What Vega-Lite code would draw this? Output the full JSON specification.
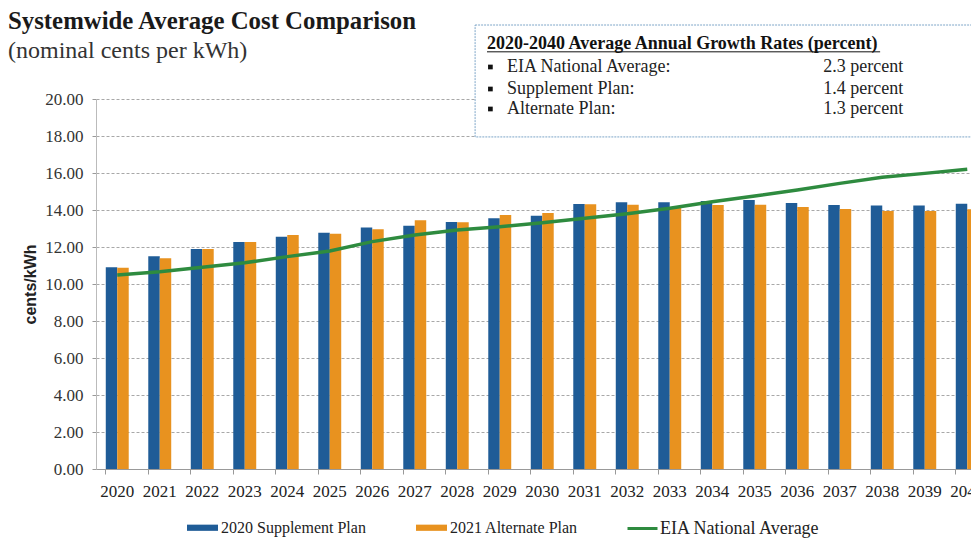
{
  "$schema": "https://vega.github.io/schema/vega-lite/v6.json",
  "width": 875,
  "height": 370,
  "autosize": {"type": "none"},
  "padding": {"left": 96, "top": 99, "right": 0, "bottom": 69},
  "background": "white",
  "config": {"view": {"stroke": null}, "font": "Liberation Serif"},
  "datasets": {
    "costs": [
      {"year": "2020", "series": "2020 Supplement Plan", "value": 10.90},
      {"year": "2021", "series": "2020 Supplement Plan", "value": 11.50},
      {"year": "2022", "series": "2020 Supplement Plan", "value": 11.89},
      {"year": "2023", "series": "2020 Supplement Plan", "value": 12.27},
      {"year": "2024", "series": "2020 Supplement Plan", "value": 12.56},
      {"year": "2025", "series": "2020 Supplement Plan", "value": 12.77},
      {"year": "2026", "series": "2020 Supplement Plan", "value": 13.06},
      {"year": "2027", "series": "2020 Supplement Plan", "value": 13.15},
      {"year": "2028", "series": "2020 Supplement Plan", "value": 13.35},
      {"year": "2029", "series": "2020 Supplement Plan", "value": 13.55},
      {"year": "2030", "series": "2020 Supplement Plan", "value": 13.69},
      {"year": "2031", "series": "2020 Supplement Plan", "value": 14.32},
      {"year": "2032", "series": "2020 Supplement Plan", "value": 14.42},
      {"year": "2033", "series": "2020 Supplement Plan", "value": 14.42},
      {"year": "2034", "series": "2020 Supplement Plan", "value": 14.49},
      {"year": "2035", "series": "2020 Supplement Plan", "value": 14.54},
      {"year": "2036", "series": "2020 Supplement Plan", "value": 14.38},
      {"year": "2037", "series": "2020 Supplement Plan", "value": 14.27},
      {"year": "2038", "series": "2020 Supplement Plan", "value": 14.25},
      {"year": "2039", "series": "2020 Supplement Plan", "value": 14.25},
      {"year": "2040", "series": "2020 Supplement Plan", "value": 14.34},
      {"year": "2020", "series": "2021 Alternate Plan", "value": 10.88},
      {"year": "2021", "series": "2021 Alternate Plan", "value": 11.39},
      {"year": "2022", "series": "2021 Alternate Plan", "value": 11.89},
      {"year": "2023", "series": "2021 Alternate Plan", "value": 12.27},
      {"year": "2024", "series": "2021 Alternate Plan", "value": 12.65},
      {"year": "2025", "series": "2021 Alternate Plan", "value": 12.72},
      {"year": "2026", "series": "2021 Alternate Plan", "value": 12.96},
      {"year": "2027", "series": "2021 Alternate Plan", "value": 13.44},
      {"year": "2028", "series": "2021 Alternate Plan", "value": 13.34},
      {"year": "2029", "series": "2021 Alternate Plan", "value": 13.73},
      {"year": "2030", "series": "2021 Alternate Plan", "value": 13.84},
      {"year": "2031", "series": "2021 Alternate Plan", "value": 14.31},
      {"year": "2032", "series": "2021 Alternate Plan", "value": 14.29},
      {"year": "2033", "series": "2021 Alternate Plan", "value": 14.15},
      {"year": "2034", "series": "2021 Alternate Plan", "value": 14.27},
      {"year": "2035", "series": "2021 Alternate Plan", "value": 14.29},
      {"year": "2036", "series": "2021 Alternate Plan", "value": 14.16},
      {"year": "2037", "series": "2021 Alternate Plan", "value": 14.05},
      {"year": "2038", "series": "2021 Alternate Plan", "value": 13.95},
      {"year": "2039", "series": "2021 Alternate Plan", "value": 13.95},
      {"year": "2040", "series": "2021 Alternate Plan", "value": 14.04},
      {"year": "2020", "series": "EIA National Average", "value": 10.49},
      {"year": "2021", "series": "EIA National Average", "value": 10.66},
      {"year": "2022", "series": "EIA National Average", "value": 10.90},
      {"year": "2023", "series": "EIA National Average", "value": 11.15},
      {"year": "2024", "series": "EIA National Average", "value": 11.48},
      {"year": "2025", "series": "EIA National Average", "value": 11.78},
      {"year": "2026", "series": "EIA National Average", "value": 12.29},
      {"year": "2027", "series": "EIA National Average", "value": 12.65},
      {"year": "2028", "series": "EIA National Average", "value": 12.92},
      {"year": "2029", "series": "EIA National Average", "value": 13.10},
      {"year": "2030", "series": "EIA National Average", "value": 13.31},
      {"year": "2031", "series": "EIA National Average", "value": 13.55},
      {"year": "2032", "series": "EIA National Average", "value": 13.80},
      {"year": "2033", "series": "EIA National Average", "value": 14.09},
      {"year": "2034", "series": "EIA National Average", "value": 14.45},
      {"year": "2035", "series": "EIA National Average", "value": 14.76},
      {"year": "2036", "series": "EIA National Average", "value": 15.08},
      {"year": "2037", "series": "EIA National Average", "value": 15.44},
      {"year": "2038", "series": "EIA National Average", "value": 15.77},
      {"year": "2039", "series": "EIA National Average", "value": 15.98},
      {"year": "2040", "series": "EIA National Average", "value": 16.20}
    ],
    "notes": [
      {"part": "box", "x": 2028.42, "x2": 2042.0, "y": 17.95, "y2": 24.0},
      {"part": "underline", "x": 2028.70, "x2": 2037.95, "y": 22.55},
      {"part": "header", "x": 2028.70, "y": 22.70, "text": "2020-2040  Average Annual Growth Rates (percent)"},
      {"part": "body", "x": 2029.17, "y": 21.46, "text": "EIA National Average:"},
      {"part": "body", "x": 2036.61, "y": 21.46, "text": "2.3 percent"},
      {"part": "body", "x": 2029.17, "y": 20.27, "text": "Supplement Plan:"},
      {"part": "body", "x": 2036.61, "y": 20.27, "text": "1.4 percent"},
      {"part": "body", "x": 2029.17, "y": 19.19, "text": "Alternate Plan:"},
      {"part": "body", "x": 2036.61, "y": 19.19, "text": "1.3 percent"},
      {"part": "bullet", "x": 2028.78, "y": 21.73},
      {"part": "bullet", "x": 2028.78, "y": 20.54},
      {"part": "bullet", "x": 2028.78, "y": 19.46},
      {"part": "title", "x": 2017.43, "y": 23.80, "text": "Systemwide Average Cost Comparison"},
      {"part": "subtitle", "x": 2017.43, "y": 22.22, "text": "(nominal cents per kWh)"}
    ]
  },
  "layer": [
    {
      "data": {"name": "costs"},
      "encoding": {
        "x": {
          "field": "year",
          "type": "ordinal",
          "scale": {"range": [0, 892.5], "paddingInner": 0.46, "paddingOuter": 0.23},
          "axis": {
            "title": null,
            "labelAngle": 0,
            "labelFont": "Liberation Serif",
            "labelFontSize": 17,
            "labelColor": "#222222",
            "labelPadding": 9,
            "tickSize": 5,
            "tickColor": "#999999",
            "domainColor": "#999999",
            "bandPosition": 0,
            "grid": false
          }
        },
        "y": {
          "field": "value",
          "type": "quantitative",
          "scale": {"domain": [0, 20], "nice": false},
          "axis": {
            "title": "cents/kWh",
            "titleFont": "Liberation Sans",
            "titleFontSize": 16,
            "titleFontWeight": "bold",
            "titleColor": "#222222",
            "titlePadding": 6,
            "values": [0, 2, 4, 6, 8, 10, 12, 14, 16, 18, 20],
            "tickCount": 12,
            "labelOverlap": false,
            "format": ".2f",
            "labelFont": "Liberation Serif",
            "labelFontSize": 17,
            "labelColor": "#333333",
            "labelPadding": 9,
            "tickSize": 4,
            "tickColor": "#999999",
            "domainColor": "#bbbbbb",
            "grid": true,
            "gridColor": "#a8a8a8",
            "gridDash": [3, 2],
            "gridWidth": 1
          }
        }
      },
      "layer": [
        {
          "transform": [{"filter": "datum.series !== 'EIA National Average'"}],
          "mark": {"type": "bar"},
          "encoding": {
            "xOffset": {"field": "series", "type": "nominal", "scale": {"paddingInner": 0, "paddingOuter": 0}},
            "fill": {
              "field": "series",
              "type": "nominal",
              "scale": {"domain": ["2020 Supplement Plan", "2021 Alternate Plan"], "range": ["#1f5c97", "#e8921f"]},
              "legend": {
                "orient": "none",
                "legendX": 91,
                "legendY": 413,
                "direction": "horizontal",
                "title": null,
                "padding": 0,
                "symbolType": "M-1,-0.2H1V0.2H-1Z",
                "symbolSize": 961,
                "symbolStrokeWidth": 0,
                "labelFont": "Liberation Serif",
                "labelFontSize": 16,
                "labelColor": "#222222",
                "labelOffset": 3,
                "labelLimit": 300,
                "columnPadding": 50
              }
            }
          }
        },
        {
          "transform": [{"filter": "datum.series === 'EIA National Average'"}],
          "mark": {"type": "line", "strokeWidth": 3.5},
          "encoding": {
            "stroke": {
              "field": "series",
              "type": "nominal",
              "scale": {"domain": ["EIA National Average"], "range": ["#2e8b3f"]},
              "legend": {
                "orient": "none",
                "legendX": 530,
                "legendY": 413,
                "title": null,
                "padding": 0,
                "symbolType": "stroke",
                "symbolSize": 900,
                "symbolStrokeWidth": 3,
                "labelFont": "Liberation Serif",
                "labelFontSize": 18,
                "labelColor": "#222222",
                "labelOffset": 1,
                "labelLimit": 300
              }
            }
          }
        }
      ]
    },
    {
      "data": {"name": "notes"},
      "encoding": {
        "x": {"field": "x", "type": "quantitative", "scale": {"domain": [2019.5, 2040.5], "range": [0, 892.5], "nice": false, "zero": false}, "axis": null},
        "y": {"field": "y", "type": "quantitative", "scale": {"domain": [0, 20], "nice": false}, "axis": null}
      },
      "layer": [
        {
          "transform": [{"filter": "datum.part === 'box'"}],
          "mark": {"type": "rect", "fill": "white", "stroke": "#7ea6c8", "strokeWidth": 1, "strokeDash": [2, 1]},
          "encoding": {"x2": {"field": "x2"}, "y2": {"field": "y2"}}
        },
        {
          "transform": [{"filter": "datum.part === 'underline'"}],
          "mark": {"type": "rule", "stroke": "#111111", "strokeWidth": 1},
          "encoding": {"x2": {"field": "x2"}}
        },
        {
          "transform": [{"filter": "datum.part === 'header'"}],
          "mark": {"type": "text", "align": "left", "baseline": "alphabetic", "font": "Liberation Serif", "fontSize": 18, "fontWeight": "bold", "fill": "#111111"},
          "encoding": {"text": {"field": "text"}}
        },
        {
          "transform": [{"filter": "datum.part === 'body'"}],
          "mark": {"type": "text", "align": "left", "baseline": "alphabetic", "font": "Liberation Serif", "fontSize": 18, "fill": "#222222"},
          "encoding": {"text": {"field": "text"}}
        },
        {
          "transform": [{"filter": "datum.part === 'bullet'"}],
          "mark": {"type": "square", "size": 22, "fill": "#111111", "opacity": 1},
          "encoding": {}
        },
        {
          "transform": [{"filter": "datum.part === 'title'"}],
          "mark": {"type": "text", "align": "left", "baseline": "alphabetic", "font": "Liberation Serif", "fontSize": 24.8, "fontWeight": "bold", "fill": "#1a1a1a"},
          "encoding": {"text": {"field": "text"}}
        },
        {
          "transform": [{"filter": "datum.part === 'subtitle'"}],
          "mark": {"type": "text", "align": "left", "baseline": "alphabetic", "font": "Liberation Serif", "fontSize": 24, "fill": "#333333"},
          "encoding": {"text": {"field": "text"}}
        }
      ]
    }
  ],
  "resolve": {"scale": {"x": "independent", "y": "independent"}}
}
